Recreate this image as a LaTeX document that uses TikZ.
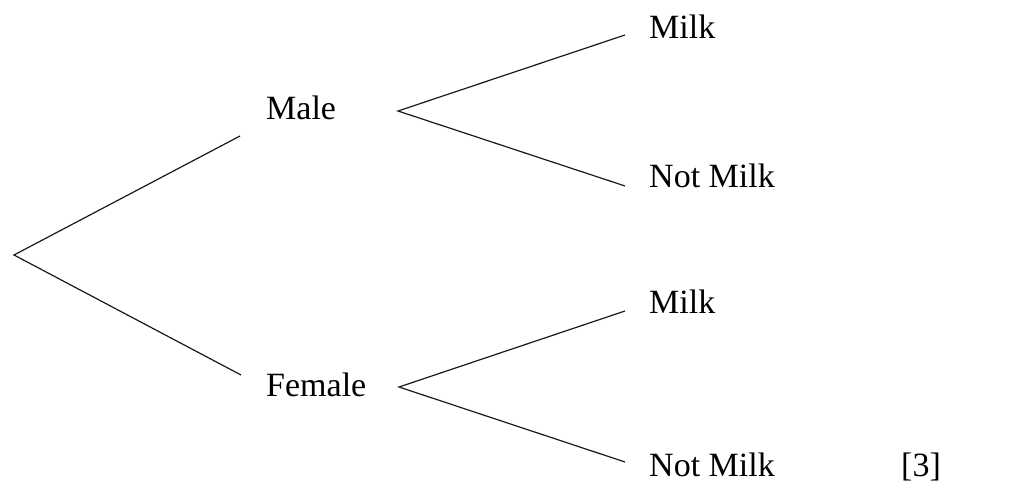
\documentclass[tikz,border=0pt]{standalone}
\usepackage{fontspec}
\setmainfont{Liberation Serif}
\begin{document}
\begin{tikzpicture}[x=1pt,y=-1pt,
  branch/.style={line width=1.2pt,black!90},
  lbl/.style={anchor=base west,inner sep=0pt,font=\fontsize{34}{40}\selectfont}]
\useasboundingbox (0,0) rectangle (1013,489);
% first stage
\coordinate (root) at (14,255);
\coordinate (mEnd) at (240,136);
\coordinate (fEnd) at (241,375);
\draw[branch] (mEnd) -- (root) -- (fEnd);
\node[lbl] (male) at (266,120) {Male};
\node[lbl] (female) at (266,396) {Female};
% second stage after Male
\coordinate (mApex) at (398,111);
\coordinate (mMilk) at (625,35);
\coordinate (mNot) at (625,186);
\draw[branch] (mMilk) -- (mApex) -- (mNot);
\node[lbl] (mMilkT) at (649,39) {Milk};
\node[lbl] (mNotT) at (649,188) {Not Milk};
% second stage after Female
\coordinate (fApex) at (399,387);
\coordinate (fMilk) at (625,311);
\coordinate (fNot) at (625,462);
\draw[branch] (fMilk) -- (fApex) -- (fNot);
\node[lbl] (fMilkT) at (649,314) {Milk};
\node[lbl] (fNotT) at (649,476) {Not Milk};
\node[lbl] (marks) at (901,476) {[3]};
\end{tikzpicture}
\end{document}
